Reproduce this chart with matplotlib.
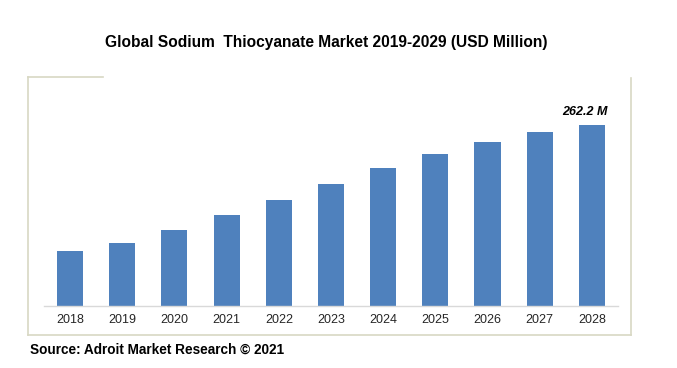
import matplotlib.pyplot as plt
from matplotlib.lines import Line2D

plt.rcParams['font.family'] = ['Liberation Sans', 'DejaVu Sans']

# data (USD million)
years = ['2018', '2019', '2020', '2021', '2022', '2023', '2024', '2025', '2026', '2027', '2028']
values = [79.7, 91.3, 110.0, 131.8, 153.6, 176.7, 199.9, 220.2, 237.6, 252.0, 262.2]
last_label = '262.2 M'

W, H = 677, 368
fig = plt.figure(figsize=(W / 100, H / 100), dpi=100)
ax = fig.add_axes([44 / W, 1 - 306 / H, (618 - 44) / W, (306 - 99) / H])

x = list(range(len(years)))
ax.bar(x, values, width=0.5, color='#4f81bd')
ax.set_xlim(-0.5, len(years) - 0.5)
ax.set_ylim(0, 300)
ax.set_xticks(x)
ax.set_xticklabels(years, fontsize=9, color='#262626')
ax.set_yticks([])
ax.tick_params(axis='x', length=0, pad=6)
for s in ['top', 'right', 'left']:
    ax.spines[s].set_visible(False)
ax.spines['bottom'].set_color('#d9d9d9')
ax.spines['bottom'].set_linewidth(1)

ax.annotate(last_label, (x[-1], values[-1]), xytext=(-5, 5), textcoords='offset points',
            ha='center', va='bottom', fontsize=9, fontweight='bold', fontstyle='italic')

# outer frame (partial, as in reference)
frame_col = '#d8d8c4'
def px_line(x0, y0, x1, y1):
    fig.add_artist(Line2D([x0 / W, x1 / W], [1 - y0 / H, 1 - y1 / H],
                          color=frame_col, lw=1.2, transform=fig.transFigure))

px_line(28, 77, 28, 335)
px_line(28, 77, 103, 77)
px_line(631, 78, 631, 335)
px_line(28, 335, 631, 335)

fig.text(326 / W, 1 - 42 / H, 'Global Sodium  Thiocyanate Market 2019-2029 (USD Million)',
         ha='center', va='center', fontsize=11.2, fontweight='bold')
fig.text(30 / W, 1 - 350 / H, 'Source: Adroit Market Research \u00a9 2021',
         ha='left', va='center', fontsize=9.8, fontweight='bold')

fig.savefig('out.png', dpi=100)
